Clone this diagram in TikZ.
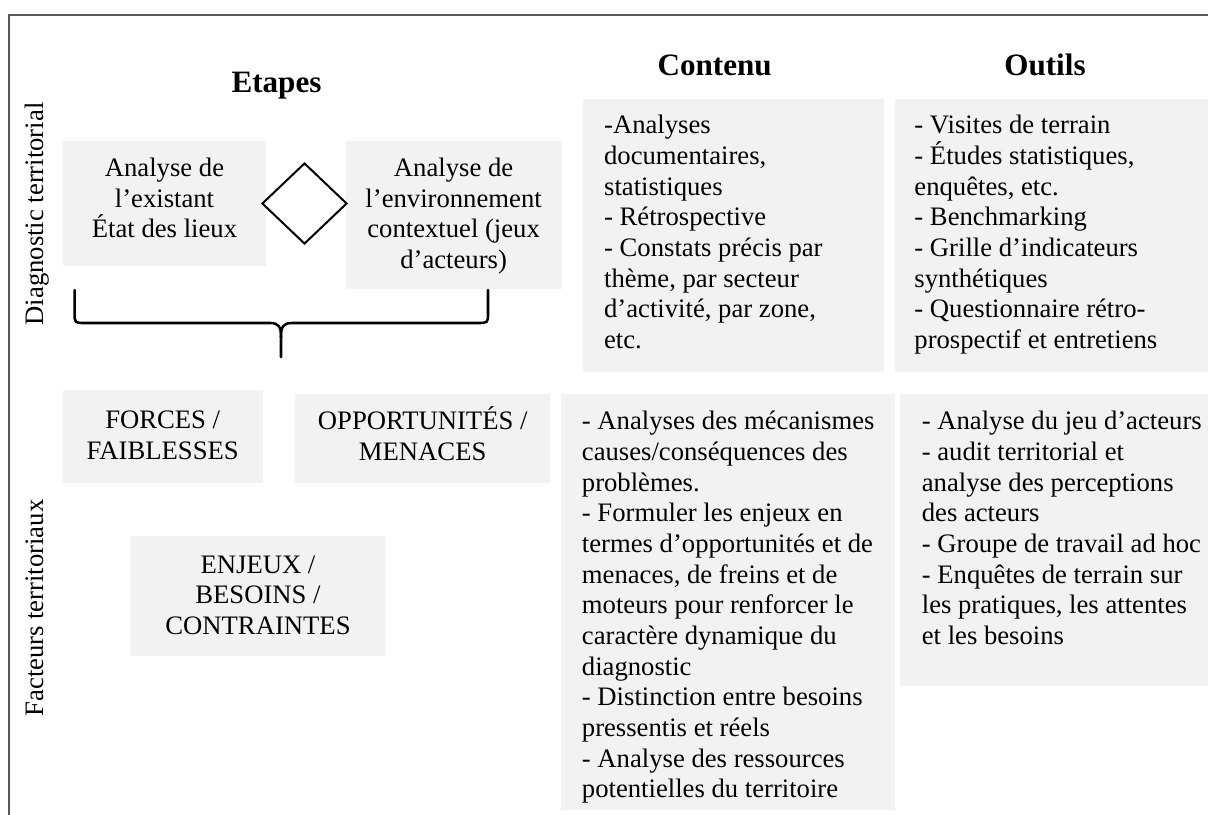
\documentclass[tikz,border=0pt]{standalone}
\usepackage{fontspec}
\setmainfont{Liberation Serif}
\usetikzlibrary{shapes.geometric,fit}
\definecolor{boxgray}{HTML}{F2F2F2}
\definecolor{framegray}{HTML}{595959}
\newcommand\mybodyfont{\fontsize{12}{13.8}\selectfont\lineskiplimit -20pt\relax\lineskip 0pt\relax}
\begin{document}
\begin{tikzpicture}[x=0.45pt,y=-0.45pt,
  gbox/.style={fill=boxgray, draw=none, inner sep=0pt, outer sep=0pt},
  body/.style={font=\mybodyfont, inner sep=0pt},
  ltext/.style={body, align=left, anchor=north west},
  ctext/.style={body, align=center, anchor=north},
  head/.style={font=\fontsize{14}{16.1}\selectfont\bfseries, inner sep=0pt, anchor=base},
  side/.style={font=\fontsize{12}{13.8}\selectfont, inner sep=0pt, rotate=90, anchor=base},
  bracestyle/.style={line width=1.15pt, line join=round, line cap=round},
  framestyle/.style={draw=framegray, line width=0.7pt}]
\useasboundingbox (0,0) rectangle (1208,815);
% frame
\draw[framestyle] (1208,15) -- (9,15) -- (9,815);
% headings
\node[head] (hEtapes) at (276.5,92.7) {Etapes};
\node[head] (hContenu) at (714.7,75) {Contenu};
\node[head] (hOutils) at (1045,75) {Outils};
% side labels
\node[side] (sDiag) at (43,214) {Diagnostic territorial};
\node[side] (sFact) at (43,608) {Facteurs territoriaux};
% boxes
\node[gbox, fit={(63,141)(266,266)}] (boxA) {};
\node[gbox, fit={(345.5,141)(561.8,289)}] (boxB) {};
\node[gbox, fit={(583,99)(884,372)}] (boxC1) {};
\node[gbox, fit={(895,99)(1208,372)}] (boxO1) {};
\node[gbox, fit={(63,390)(263,483)}] (boxF) {};
\node[gbox, fit={(295.4,394)(550,483)}] (boxOM) {};
\node[gbox, fit={(131,536)(384.6,656)}] (boxE) {};
\node[gbox, fit={(560.5,394)(895,810)}] (boxC2) {};
\node[gbox, fit={(900.4,394)(1208,686)}] (boxO2) {};
% diamond
\node[diamond, draw, line width=0.9pt, inner sep=0pt, minimum width=85*0.45pt, minimum height=81*0.45pt] (dia) at (304.5,203.5) {};
% texts
\node[ctext] (tA) at (164.5,154.5) {\strut Analyse de\\l’existant\\État des lieux};
\node[ctext] (tB) at (453.6,154.5) {\strut Analyse de\\l’environnement\\contextuel (jeux\\d’acteurs)};
\node[ltext] (tC1) at (603.7,111.8) {\strut -Analyses\\documentaires,\\statistiques\\- Rétrospective\\- Constats précis par\\thème, par secteur\\d’activité, par zone,\\etc.};
\node[ltext] (tO1) at (914,111.8) {\strut - Visites de terrain\\- Études statistiques,\\enquêtes, etc.\\- Benchmarking\\- Grille d’indicateurs\\synthétiques\\- Questionnaire rétro-\\prospectif et entretiens};
\node[ctext] (tF) at (162.7,406.5) {\strut FORCES /\\FAIBLESSES};
\node[ctext] (tOM) at (422.7,406.5) {\strut OPPORTUNITÉS /\\MENACES};
\node[ctext] (tE) at (258,551.2) {\strut ENJEUX /\\BESOINS /\\CONTRAINTES};
\node[ltext] (tC2) at (581.5,407.8) {\strut - Analyses des mécanismes\\causes/conséquences des\\problèmes.\\- Formuler les enjeux en\\termes d’opportunités et de\\menaces, de freins et de\\moteurs pour renforcer le\\caractère dynamique du\\diagnostic\\- Distinction entre besoins\\pressentis et réels\\- Analyse des ressources\\potentielles du territoire};
\node[ltext] (tO2) at (921.4,407.8) {\strut - Analyse du jeu d’acteurs\\- audit territorial et\\analyse des perceptions\\des acteurs\\- Groupe de travail ad hoc\\- Enquêtes de terrain sur\\les pratiques, les attentes\\et les besoins};
% brace
\coordinate (bl) at (74.6,290);
\coordinate (br) at (488,290);
\coordinate (bt) at (281,357);
\draw[bracestyle] (bl) -- (74.6,313) .. controls (74.6,323) .. (85,323) -- (270,323) .. controls (279,323) and (281,327) .. (281,337) -- (bt);
\draw[bracestyle] (br) -- (488,313) .. controls (488,323) .. (477,323) -- (292,323) .. controls (283,323) and (281,327) .. (281,337);
\end{tikzpicture}
\end{document}
